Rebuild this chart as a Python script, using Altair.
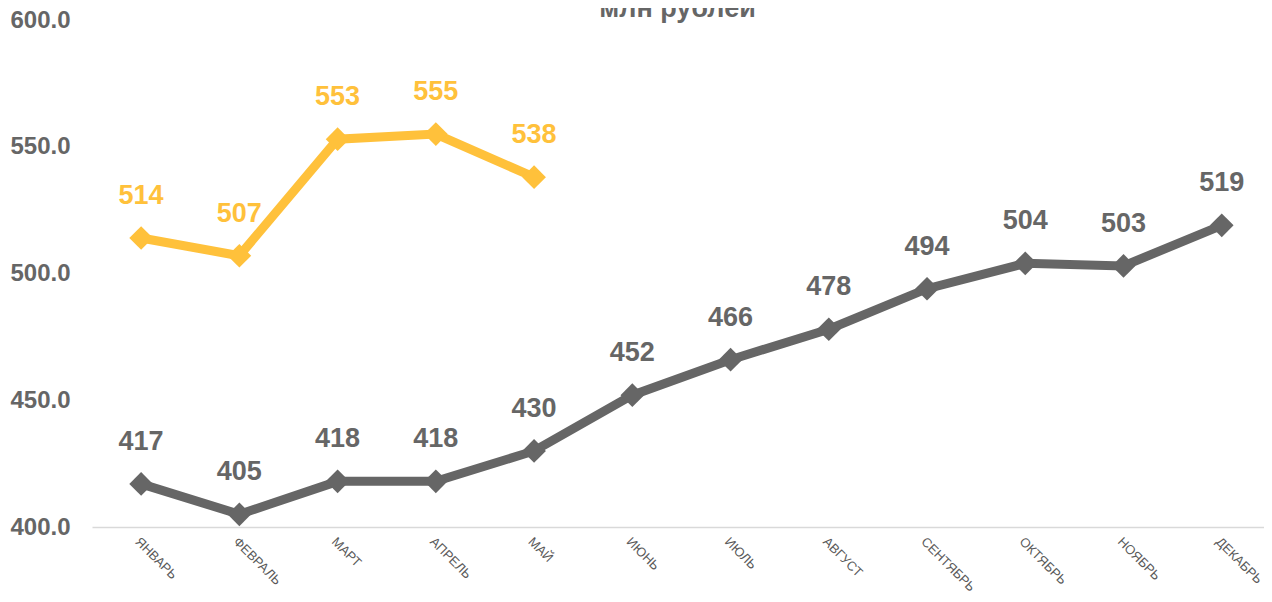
import altair as alt
import pandas as pd

TITLE = "млн рублей"
months = ["ЯНВАРЬ", "ФЕВРАЛЬ", "МАРТ", "АПРЕЛЬ", "МАЙ", "ИЮНЬ", "ИЮЛЬ",
          "АВГУСТ", "СЕНТЯБРЬ", "ОКТЯБРЬ", "НОЯБРЬ", "ДЕКАБРЬ"]
series_prev = [417, 405, 418, 418, 430, 452, 466, 478, 494, 504, 503, 519]
series_curr = [514, 507, 553, 555, 538]
series_names = ["prev", "curr"]
series_colors = ["#666666", "#FFC13B"]
y_ticks = [400, 450, 500, 550, 600]

rows = []
for i, v in enumerate(series_prev):
    rows.append({"idx": i, "month": months[i], "value": v, "series": series_names[0]})
for i, v in enumerate(series_curr):
    rows.append({"idx": i, "month": months[i], "value": v, "series": series_names[1]})
df = pd.DataFrame(rows)

FONT = "Liberation Sans"
label_expr = "[" + ",".join("'" + m + "'" for m in months) + "][datum.value]"

x = alt.X("idx:Q", scale=alt.Scale(domain=[-0.5, 11.43], nice=False, zero=False),
          axis=alt.Axis(values=list(range(len(months))), labelExpr=label_expr,
                        labelAngle=45, labelAlign="left", labelBaseline="top",
                        labelPadding=8, labelFontSize=13, labelColor="#595959",
                        labelFont=FONT, ticks=False, grid=False,
                        domainColor="#D9D9D9", domainWidth=1.5,
                        labelOverlap=False, labelFlush=False, labelBound=False,
                        title=None))
y = alt.Y("value:Q", scale=alt.Scale(domain=[400, 600], nice=False, zero=False),
          axis=alt.Axis(values=y_ticks, format=".1f", labelFontSize=24,
                        labelFontWeight="bold", labelColor="#666666", labelFont=FONT,
                        labelPadding=22, ticks=False, domain=False, grid=False,
                        title=None))
color = alt.Color("series:N", scale=alt.Scale(domain=series_names, range=series_colors),
                  legend=None)

base = alt.Chart(df).encode(x=x, y=y, color=color, detail="series:N")

line = base.mark_line(strokeWidth=9)
pts = base.mark_point(shape="diamond", filled=True, size=560, opacity=1)
txt = base.mark_text(dy=-42, fontSize=27, fontWeight="bold", font=FONT,
                     baseline="middle").encode(text="value:Q")

title = alt.Chart(pd.DataFrame({"t": [TITLE]})).mark_text(
    fontSize=27, fontWeight="bold", font=FONT, color="#666666",
    align="center", baseline="alphabetic"
).encode(text="t:N", x=alt.value(585.5), y=alt.value(-3))

chart = alt.layer(line, pts, txt, title).properties(
    width=1172, height=507,
    autosize=alt.AutoSizeParams(type="none"),
    padding={"left": 84, "top": 12, "right": 0, "bottom": 66},
).configure_view(stroke=None)

chart.save("out.html", embed_options={"renderer": "svg", "actions": False})
